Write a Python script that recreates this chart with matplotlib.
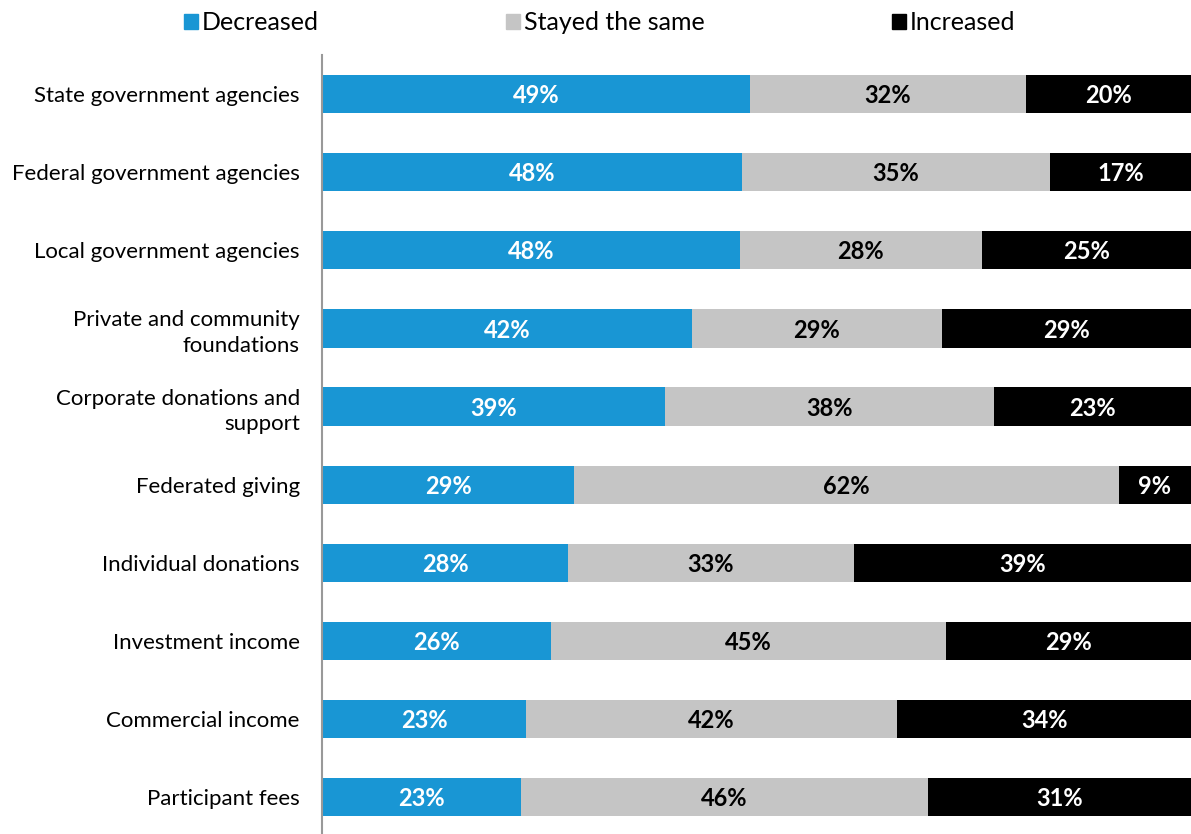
import matplotlib
matplotlib.use("Agg")
import matplotlib.pyplot as plt
from matplotlib.patches import Patch
import numpy as np

plt.rcParams['font.family'] = ['Lato', 'DejaVu Sans']

categories = [
    "State government agencies",
    "Federal government agencies",
    "Local government agencies",
    "Private and community\nfoundations",
    "Corporate donations and\nsupport",
    "Federated giving",
    "Individual donations",
    "Investment income",
    "Commercial income",
    "Participant fees",
]

# segment shares as drawn
decreased = [49.3, 48.3, 48.1, 42.6, 39.5, 29.0, 28.3, 26.4, 23.5, 22.9]
same = [31.8, 35.4, 27.9, 28.8, 37.9, 62.7, 32.9, 45.4, 42.7, 46.8]
increased = [19.0, 16.2, 24.1, 28.7, 22.7, 8.3, 38.8, 28.2, 33.8, 30.3]

# printed labels
decreased_lbl = [49, 48, 48, 42, 39, 29, 28, 26, 23, 23]
same_lbl = [32, 35, 28, 29, 38, 62, 33, 45, 42, 46]
increased_lbl = [20, 17, 25, 29, 23, 9, 39, 29, 34, 31]

series = ["Decreased", "Stayed the same", "Increased"]
colors = ["#1996d4", "#c5c5c5", "#000000"]
text_colors = ["white", "black", "white"]

fig = plt.figure(figsize=(11.91, 8.34), dpi=100)
ax = fig.add_axes([322 / 1191, 0, 1 - 322 / 1191, 1 - 55 / 834])

y = np.arange(len(categories))
vals = [np.array(decreased), np.array(same), np.array(increased)]
lbls = [decreased_lbl, same_lbl, increased_lbl]
total = vals[0] + vals[1] + vals[2]
left = np.zeros(len(categories))
for v, lb, c, tc in zip(vals, lbls, colors, text_colors):
    w = v / total * 100
    ax.barh(y, w, left=left, height=0.49, color=c)
    for yi, li, wi, t in zip(y, left, w, lb):
        ax.text(li + wi / 2, yi + 0.02, f"{t}%", ha="center", va="center",
                color=tc, fontsize=17, fontweight="bold")
    left = left + w

ax.set_xlim(0, 100)
ax.set_ylim(9.47, -0.5)
ax.set_yticks(y)
ax.set_yticklabels(categories, fontsize=16, linespacing=1.35)
ax.tick_params(axis="y", length=0, pad=16)
ax.set_xticks([])
for s in ["top", "right", "bottom"]:
    ax.spines[s].set_visible(False)
ax.spines["left"].set_color("#999999")
ax.spines["left"].set_linewidth(1.5)

handles = [Patch(color=c, label=s) for c, s in zip(colors, series)]
fig.legend(handles=handles, loc="upper left", bbox_to_anchor=(184 / 1191, 1 - 11 / 834),
           ncol=3, frameon=False, fontsize=18, handlelength=0.55, handleheight=0.55,
           handletextpad=0.15, columnspacing=7.5, borderpad=0, borderaxespad=0)

fig.savefig("out.png", dpi=100)
